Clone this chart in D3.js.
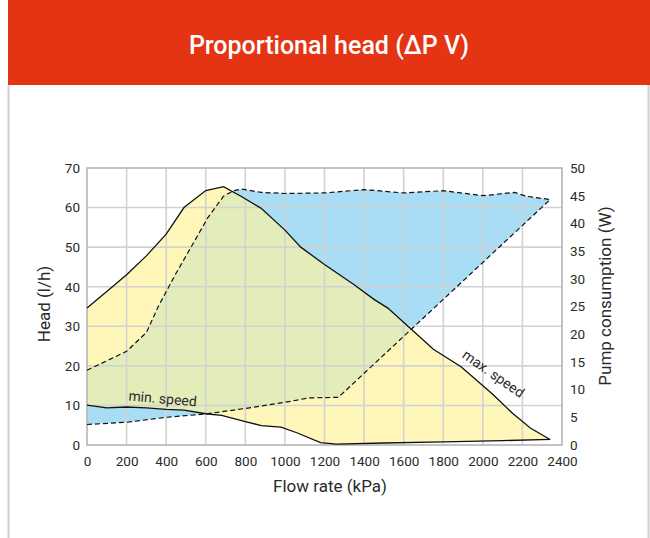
<!DOCTYPE html>
<html>
<head>
<meta charset="utf-8">
<script src="https://cdn.jsdelivr.net/npm/d3@7"></script>
<style>
	body { margin: 0; background: #fff; }
	text { font-family: Roboto, "DejaVu Sans", sans-serif; fill: #2b2b2b; }
</style>
</head>
<body>
<div id="chart"></div>
<script>
// data: [flow rate, value]
var xTicks = [0, 200, 400, 600, 800, 1000, 1200, 1400, 1600, 1800, 2000, 2200, 2400];
var headTicks = [0, 10, 20, 30, 40, 50, 60, 70];
var powerTicks = [0, 5, 10, 15, 20, 25, 30, 35, 40, 45, 50];

// head curves (l/h)
var maxSpeed = [[0,34.6],[100,38.8],[200,43],[300,47.8],[400,53.3],[490,60],[600,64.3],[690,65.3],[780,62.8],
	[880,59.8],[1000,54.3],[1080,50],[1200,45.6],[1350,40.5],[1450,36.8],[1520,34.6],[1640,29.2],[1750,24.2],
	[1890,19.8],[2050,12.8],[2150,8],[2240,4.3],[2340,1.4]];
var minSpeed = [[0,10.1],[100,9.4],[200,9.6],[300,9.4],[400,9],[490,8.8],[600,7.9],[680,7.5],[810,5.8],
	[880,4.9],[980,4.5],[1060,3.1],[1180,0.6],[1260,0.2],[1500,0.5],[1800,0.8],[2100,1.1],[2340,1.4]];

// pump consumption curves (W)
var powerMax = [[0,13.5],[200,16.9],[300,20.3],[360,25],[450,31],[540,36.6],[610,41],[690,44.9],[740,45.9],
	[780,46.2],[880,45.6],[1000,45.4],[1200,45.5],[1400,46.1],[1600,45.5],[1800,45.9],[2000,45],[2160,45.6],
	[2220,44.9],[2340,44.3]];
var powerMin = [[0,3.7],[200,4.1],[400,5.0],[600,5.6],[800,6.6],[1000,7.7],[1120,8.5],[1270,8.6],[2340,44.3]];

var params = {
	width: 650, height: 538,
	left: 87, right: 562, top: 168, bottom: 445,
	red: '#e43413', yellow: '#fff6b9', blue: '#a9ddf6', green: '#e3edb9', grid: '#d2d2d2'
};

function createChart(){
	var svg = d3.select('#chart').append('svg')
		.attr('width', params.width)
		.attr('height', params.height);

	// header + panel border
	svg.append('rect').attr('x', 8).attr('y', 0).attr('width', 642).attr('height', 85).style('fill', params.red);
	svg.append('line').attr('x1', 8.5).attr('x2', 8.5).attr('y1', 85).attr('y2', 538).style('stroke', '#cfcfcf').style('stroke-width', 2);
	svg.append('line').attr('x1', 648.5).attr('x2', 648.5).attr('y1', 85).attr('y2', 538).style('stroke', '#cfcfcf').style('stroke-width', 2);
	svg.append('text')
		.attr('x', 329).attr('y', 54)
		.attr('text-anchor', 'middle')
		.style('font-size', '25px')
		.style('font-weight', 500)
		.style('fill', '#fff')
		.text('Proportional head (ΔP V)');

	var x = d3.scaleLinear().domain([0, 2400]).range([params.left, params.right]);
	var yHead = d3.scaleLinear().domain([0, 70]).range([params.bottom, params.top]);
	var yPow = d3.scaleLinear().domain([0, 50]).range([params.bottom, params.top]);

	var lineHead = d3.line().x(function(d){ return x(d[0]); }).y(function(d){ return yHead(d[1]); });
	var linePow = d3.line().x(function(d){ return x(d[0]); }).y(function(d){ return yPow(d[1]); });

	// working area (yellow) and consumption area (blue)
	var headPoly = maxSpeed.concat(minSpeed.slice().reverse());
	var powPoly = powerMax.concat(powerMin.slice().reverse());

	svg.append('path').attr('d', lineHead(headPoly) + 'Z').style('fill', params.yellow);
	svg.append('path').attr('d', linePow(powPoly) + 'Z').style('fill', params.blue);

	// overlap (green)
	svg.append('clipPath').attr('id', 'powClip')
		.append('path').attr('d', linePow(powPoly) + 'Z');
	svg.append('path').attr('d', lineHead(headPoly) + 'Z')
		.attr('clip-path', 'url(#powClip)')
		.style('fill', params.green);

	// grid
	var grid = svg.append('g').style('stroke', params.grid).style('stroke-width', 1.6);
	grid.selectAll('.vg').data(xTicks.slice(1, -1)).enter().append('line')
		.attr('x1', function(d){ return x(d); }).attr('x2', function(d){ return x(d); })
		.attr('y1', params.top).attr('y2', params.bottom);
	grid.selectAll('.hg').data(headTicks.slice(1, -1)).enter().append('line')
		.attr('x1', params.left).attr('x2', params.right)
		.attr('y1', function(d){ return yHead(d); }).attr('y2', function(d){ return yHead(d); });

	// frame
	svg.append('rect')
		.attr('x', params.left).attr('y', params.top)
		.attr('width', params.right - params.left).attr('height', params.bottom - params.top)
		.style('fill', 'none').style('stroke', '#b5b5b5').style('stroke-width', 1.6);

	// curves
	svg.append('path').attr('d', linePow(powerMax)).style('fill', 'none').style('stroke', '#111')
		.style('stroke-width', 1.2).style('stroke-dasharray', '5,3');
	svg.append('path').attr('d', linePow(powerMin)).style('fill', 'none').style('stroke', '#111')
		.style('stroke-width', 1.2).style('stroke-dasharray', '5,3');
	svg.append('path').attr('d', lineHead(maxSpeed)).style('fill', 'none').style('stroke', '#111').style('stroke-width', 1.3);
	svg.append('path').attr('d', lineHead(minSpeed)).style('fill', 'none').style('stroke', '#111').style('stroke-width', 1.3);

	// axes
	var axisStyle = function(g){
		g.select('.domain').remove();
		g.selectAll('.tick line').remove();
		g.selectAll('.tick text').style('font-size', '13.5px').style('fill', '#2b2b2b')
			.style('font-family', 'Roboto, sans-serif');
	};
	svg.append('g')
		.attr('transform', 'translate(0,' + params.bottom + ')')
		.call(d3.axisBottom(x).tickValues(xTicks).tickFormat(d3.format('d')).tickSize(0).tickPadding(11))
		.call(axisStyle);
	svg.append('g')
		.attr('transform', 'translate(' + params.left + ',0)')
		.call(d3.axisLeft(yHead).tickValues(headTicks).tickSize(0).tickPadding(7))
		.call(axisStyle);
	svg.append('g')
		.attr('transform', 'translate(' + params.right + ',0)')
		.call(d3.axisRight(yPow).tickValues(powerTicks).tickSize(0).tickPadding(8))
		.call(axisStyle);

	// axis titles
	svg.append('text').attr('x', 330).attr('y', 492).attr('text-anchor', 'middle')
		.style('font-size', '17px').text('Flow rate (kPa)');
	svg.append('text').attr('transform', 'translate(50,304) rotate(-90)').attr('text-anchor', 'middle')
		.style('font-size', '17px').text('Head (l/h)');
	svg.append('text').attr('transform', 'translate(611,296) rotate(-90)').attr('text-anchor', 'middle')
		.style('font-size', '17px').text('Pump consumption (W)');

	// curve labels
	svg.append('text').attr('transform', 'translate(' + x(380) + ',' + yHead(10.5) + ') rotate(5)')
		.attr('text-anchor', 'middle').style('font-size', '14px').text('min. speed');
	svg.append('text').attr('transform', 'translate(' + x(2040) + ',' + yHead(17) + ') rotate(35)')
		.attr('text-anchor', 'middle').style('font-size', '14px').text('max. speed');
}

createChart();
</script>
</body>
</html>
